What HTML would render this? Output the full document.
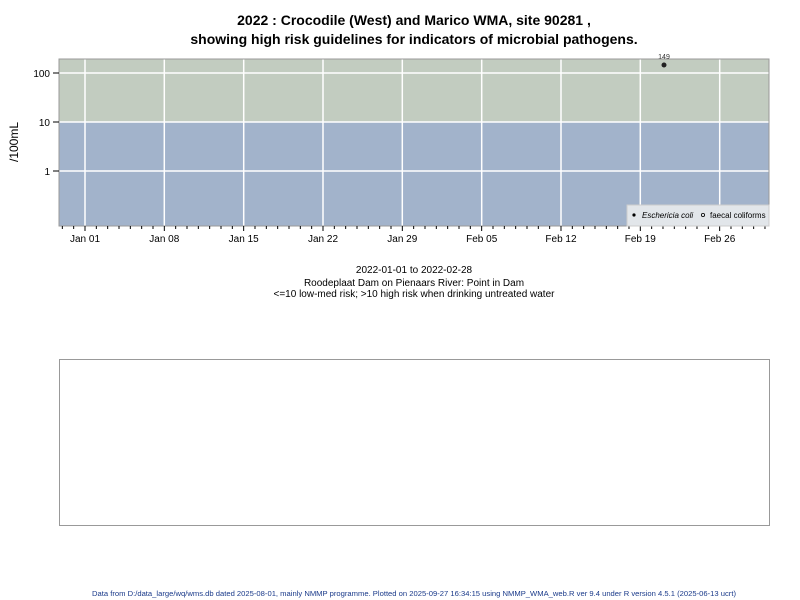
<!DOCTYPE html>
<html><head><style>body{margin:0;background:#fff}svg{display:block;font-family:"Liberation Sans",Arial,sans-serif}</style></head>
<body>
<svg width="800" height="600" viewBox="0 0 800 600">
<text x="414" y="25" text-anchor="middle" font-size="14" font-weight="bold">2022 : Crocodile (West) and Marico WMA, site 90281 ,</text>
<text x="414" y="44" text-anchor="middle" font-size="14" font-weight="bold">showing high risk guidelines for indicators of microbial pathogens.</text>
<rect x="59" y="59" width="710" height="63" fill="#c2ccc0"/>
<rect x="59" y="122" width="710" height="104" fill="#a2b3cb"/>
<g stroke="#fff" stroke-width="1.5">
<line x1="59" x2="769" y1="73" y2="73"/><line x1="59" x2="769" y1="122" y2="122"/><line x1="59" x2="769" y1="171" y2="171"/>
<line x1="85" x2="85" y1="59" y2="226"/><line x1="164.3" x2="164.3" y1="59" y2="226"/><line x1="243.7" x2="243.7" y1="59" y2="226"/><line x1="323" x2="323" y1="59" y2="226"/><line x1="402.3" x2="402.3" y1="59" y2="226"/><line x1="481.7" x2="481.7" y1="59" y2="226"/><line x1="561" x2="561" y1="59" y2="226"/><line x1="640.3" x2="640.3" y1="59" y2="226"/><line x1="719.7" x2="719.7" y1="59" y2="226"/>
</g>
<rect x="59" y="59" width="710" height="167" fill="none" stroke="#999" stroke-width="1"/>
<g stroke="#000" stroke-width="1">
<line x1="53" x2="59" y1="73" y2="73"/><line x1="53" x2="59" y1="122" y2="122"/><line x1="53" x2="59" y1="171" y2="171"/>
</g>
<g font-size="10" text-anchor="end"><text x="50" y="77">100</text><text x="50" y="126">10</text><text x="50" y="175">1</text></g>
<text transform="translate(18,142) rotate(-90)" text-anchor="middle" font-size="12">/100mL</text>
<g stroke="#000" stroke-width="1" id="ticks"></g>
<g font-size="10" text-anchor="middle">
<text x="85" y="242">Jan 01</text><text x="164.3" y="242">Jan 08</text><text x="243.7" y="242">Jan 15</text><text x="323" y="242">Jan 22</text><text x="402.3" y="242">Jan 29</text><text x="481.7" y="242">Feb 05</text><text x="561" y="242">Feb 12</text><text x="640.3" y="242">Feb 19</text><text x="719.7" y="242">Feb 26</text>
</g>
<circle cx="664" cy="65" r="2.5" fill="#222"/>
<text x="664" y="59" text-anchor="middle" font-size="7" fill="#333">149</text>
<rect x="627" y="205" width="142" height="21" fill="#e2e6ea" stroke="#ccc"/>
<circle cx="634" cy="215" r="1.6" fill="#000"/>
<text x="642" y="218" font-size="8" font-style="italic">Eschericia coli</text>
<circle cx="703" cy="215" r="1.6" fill="none" stroke="#000" stroke-width="0.8"/>
<text x="710" y="218" font-size="8">faecal coliforms</text>
<g font-size="10" text-anchor="middle">
<text x="414" y="273">2022-01-01 to 2022-02-28</text>
<text x="414" y="286">Roodeplaat Dam on Pienaars River: Point in Dam</text>
<text x="414" y="297">&lt;=10 low-med risk; &gt;10 high risk when drinking untreated water</text>
</g>
<rect x="59.5" y="359.5" width="710" height="166" fill="none" stroke="#999"/>
<text x="414" y="596" text-anchor="middle" font-size="7" fill="#1a3a8a" textLength="644" lengthAdjust="spacingAndGlyphs">Data from D:/data_large/wq/wms.db dated 2025-08-01, mainly NMMP programme. Plotted on 2025-09-27 16:34:15 using NMMP_WMA_web.R ver 9.4 under R version 4.5.1 (2025-06-13 ucrt)</text>
</svg>
<script>
var g=document.getElementById('ticks'),s='';
for(var d=-2;d<=60;d++){var x=85+d*11.333;if(x<59||x>769)continue;var maj=(d%7==0);s+='<line x1="'+x+'" x2="'+x+'" y1="226" y2="'+(maj?231:229)+'"/>';}
g.innerHTML=s;
</script>
</body></html>
